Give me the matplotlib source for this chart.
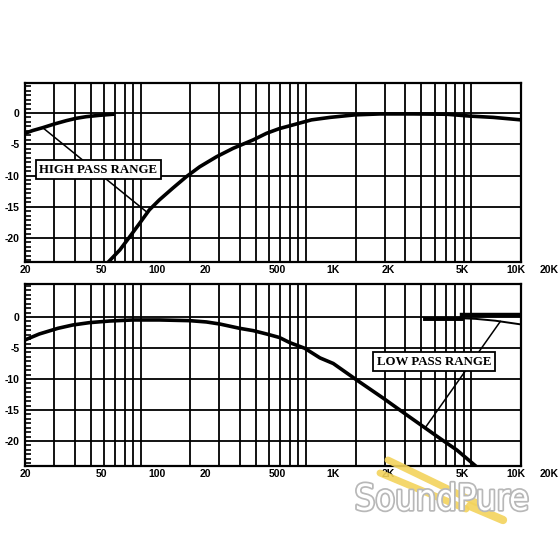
import numpy as np
import matplotlib
matplotlib.use("Agg")
import matplotlib.pyplot as plt
import matplotlib.patheffects as pe
from matplotlib.lines import Line2D
from matplotlib.ticker import MultipleLocator

# high pass panel: low-frequency shelf curve and the filter curve
hp_shelf_f = [20, 22.3, 25.6, 30.1, 35.5, 40.8, 46.9, 56.5, 68]
hp_shelf_db = [-3.25, -2.8, -2.35, -1.76, -1.23, -0.85, -0.59, -0.37, -0.2]
hp_f = [63, 75, 86, 99, 113, 130, 157, 189, 228, 288, 363, 480, 578, 690,
        837, 1080, 1400, 1980, 2800, 4470, 7120, 9870, 13600, 20000]
hp_db = [-24.0, -21.9, -19.8, -17.6, -15.5, -13.9, -12.0, -10.2, -8.6, -7.0,
         -5.65, -4.3, -3.25, -2.5, -1.9, -1.1, -0.7, -0.3, -0.15, -0.15,
         -0.2, -0.5, -0.7, -1.1]

# low pass panel
lp_f = [20, 24.4, 31.6, 38.9, 49.1, 64.9, 89.8, 130, 198, 250, 301, 398, 480,
        578, 690, 800, 985, 1217, 1464, 2029, 2939, 4074, 5140, 6486, 8180,
        10500]
lp_db = [-3.7, -2.74, -1.83, -1.29, -0.91, -0.65, -0.48, -0.48, -0.59, -0.8,
         -1.13, -1.83, -2.2, -2.74, -3.3, -4.14, -5.05, -6.6, -7.5, -10.16,
         -13.1, -15.8, -17.7, -19.6, -21.45, -23.9]
lp_flat_f = [5260, 8790]
lp_flat_db = [-0.3, -0.3]
lp_flat2_f = [8790, 20000]
lp_flat2_db = [0.3, 0.3]
lp_roll_f = [8800, 10600, 14000, 20000]
lp_roll_db = [-0.2, -0.3, -0.6, -1.2]

y_ticks = [0, -5, -10, -15, -20]
y_tick_labels = ["0", "-5", "-10", "-15", "-20"]
x_tick_labels = ["20", "50", "100", "20", "500", "1K", "2K", "5K", "10K", "20K"]
x_label_f = [20, 58, 125, 248, 676, 1458, 3140, 8810, 18600, 29500]


def on_curve(f, freqs, dbs):
    return np.interp(np.log10(f), np.log10(freqs), dbs)


def setup(ax, ylim):
    ax.set_xscale("log")
    ax.set_xlim(20, 20000)
    ax.set_ylim(*ylim)
    grid_f = [m * 10 ** e for e in (1, 2, 3, 4) for m in range(1, 10)]
    for f in grid_f:
        if 20 < f <= 10000:
            ax.axvline(f, color="black", lw=1.3, zorder=1)
    for y in y_ticks:
        ax.axhline(y, color="black", lw=1.3, zorder=1)
    ax.set_xticks([])
    ax.minorticks_off()
    ax.set_yticks(y_ticks)
    ax.set_yticklabels(y_tick_labels, fontsize=7.5, fontweight="bold",
                       family="Liberation Sans")
    ax.yaxis.set_minor_locator(MultipleLocator(5 / 7))
    ax.tick_params(axis="y", which="major", length=0, pad=4)
    ax.tick_params(axis="y", which="minor", length=4.5, width=1.2,
                   direction="in", left=True)
    for s in ax.spines.values():
        s.set_linewidth(1.6)
    for lbl, f in zip(x_tick_labels, x_label_f):
        ax.annotate(lbl, xy=(f, 0), xycoords=("data", "axes fraction"),
                    xytext=(0, -5.5), textcoords="offset points",
                    ha="center", va="center", fontsize=7.5, fontweight="bold",
                    family="Liberation Sans", annotation_clip=False)


fig = plt.figure(figsize=(5.6, 5.59), dpi=100)
ax_top = fig.add_axes([25 / 560, 1 - 262 / 559, 496 / 560, 179 / 559])
ax_bot = fig.add_axes([25 / 560, 1 - 466 / 559, 496 / 560, 182 / 559])

setup(ax_top, (-23.84, 4.8))
setup(ax_bot, (-24.03, 5.32))

box = dict(boxstyle="square,pad=0.28", fc="white", ec="black", lw=1.3)

# top panel
ax_top.plot(hp_shelf_f, hp_shelf_db, color="black", lw=2.6, zorder=3)
ax_top.plot(hp_f, hp_db, color="black", lw=2.6, zorder=3)
a_f, b_f = 25.6, 110
ax_top.plot([a_f, b_f],
            [on_curve(a_f, hp_shelf_f, hp_shelf_db), on_curve(b_f, hp_f, hp_db)],
            color="black", lw=1.1, zorder=3)
ax_top.text(55.5, -9.1, "HIGH PASS RANGE", ha="center", va="center",
            fontsize=9.3, fontweight="bold", family="Liberation Serif",
            zorder=5, bbox=box)

# bottom panel
ax_bot.plot(lp_f, lp_db, color="black", lw=2.6, zorder=3)
ax_bot.plot(lp_flat_f, lp_flat_db, color="black", lw=2.8, zorder=3)
ax_bot.plot(lp_flat2_f, lp_flat2_db, color="black", lw=3.2, zorder=3)
ax_bot.plot(lp_roll_f, lp_roll_db, color="black", lw=1.4, zorder=3)
c_f, d_f = 15000, 5260
ax_bot.plot([c_f, d_f],
            [on_curve(c_f, lp_roll_f, lp_roll_db), on_curve(d_f, lp_f, lp_db)],
            color="black", lw=1.1, zorder=3)
ax_bot.text(5970, -7.2, "LOW PASS RANGE", ha="center", va="center",
            fontsize=9.3, fontweight="bold", family="Liberation Serif",
            zorder=5, bbox=box)

# watermark
W, H = 560, 559
fork = "#f3d35c"
for (x0, y0), (x1, y1), lw in [((388, 460), (477, 503), 5),
                               ((380, 473), (466, 509), 5),
                               ((470, 506), (503, 520), 6)]:
    fig.add_artist(Line2D([x0 / W, x1 / W], [1 - y0 / H, 1 - y1 / H],
                          transform=fig.transFigure, color=fork, lw=lw,
                          solid_capstyle="round", alpha=0.9, zorder=10))
fig.text(442 / W, 1 - 510 / H, "SoundPure", ha="center", va="baseline",
         fontsize=26, color="white", family=["Liberation Sans Narrow", "DejaVu Sans"],
         fontstretch="condensed", zorder=11,
         path_effects=[pe.withStroke(linewidth=2.5, foreground="#b8b8b8")])

fig.savefig("out.png", dpi=100)
